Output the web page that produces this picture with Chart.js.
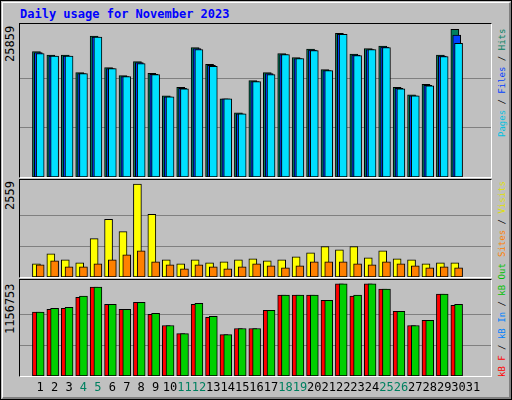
<!DOCTYPE html>
<html><head><meta charset="utf-8">
<script src="https://cdn.jsdelivr.net/npm/chart.js@4"></script>
<style>
body{margin:0;background:#fff}
#frame{position:absolute;left:0;top:0;width:512px;height:400px;background:#C0C0C0;box-sizing:border-box;border:1px solid #000}
#inner{position:absolute;left:1px;top:1px;width:506px;height:394px;border-top:1px solid #fff;border-left:1px solid #fff;border-right:2px solid #808080;border-bottom:2px solid #808080}
.panel{position:absolute;left:19px;width:471px;box-sizing:content-box;border-top:1px solid #000;border-left:1px solid #000;border-right:1px solid #fff;border-bottom:1px solid #fff}
.lbl{position:absolute;font-family:"DejaVu Sans Mono",monospace;font-size:12px;line-height:12px;white-space:nowrap;transform-origin:0 0;transform:rotate(-90deg)}
.side{font-size:9px;line-height:10px}
canvas{position:absolute}
</style></head><body>
<div id="frame"><div id="inner"></div></div>
<div style="position:absolute;left:20px;top:7px;font-family:'DejaVu Sans Mono',monospace;font-weight:bold;font-size:12px;color:#0000FF">Daily usage for November 2023</div>
<div class="panel" style="top:23px;height:153px"></div>
<div class="panel" style="top:179px;height:97px"></div>
<div class="panel" style="top:279px;height:96px"></div>
<div class="lbl" style="left:4px;top:62px;color:#000">25859</div>
<div class="lbl" style="left:4px;top:210px;color:#000">2559</div>
<div class="lbl" style="left:4px;top:334px;color:#000">1156753</div>
<div class="lbl side" style="left:497px;top:137px"><span style="color:#00C0E0">Pages</span> / <span style="color:#0040FF">Files</span> / <span style="color:#008060">Hits</span></div>
<div class="lbl side" style="left:497px;top:257px"><span style="color:#FF8000">Sites</span> / <span style="color:#E0E000">Visits</span></div>
<div class="lbl side" style="left:497px;top:377px"><span style="color:#FF0000">kB F</span> / <span style="color:#0080FF">kB In</span> / <span style="color:#00C000">kB Out</span></div>
<canvas id="c1" style="left:20px;top:24px;width:471px;height:153px" width="471" height="153"></canvas>
<canvas id="c2" style="left:20px;top:180px;width:471px;height:97px" width="471" height="97"></canvas>
<canvas id="c3" style="left:20px;top:280px;width:471px;height:118px" width="471" height="118"></canvas>
<script>
const days=["1","2","3","4","5","6","7","8","9","10","11","12","13","14","15","16","17","18","19","20","21","22","23","24","25","26","27","28","29","30","31"];
const weekend=["4","5","11","12","18","19","25","26"];
const hits=[21980,21334,21334,18278,24683,19159,17749,20217,18160,14222,15692,22685,19747,13693,11225,16867,18278,21627,20922,22391,18806,25154,21510,22509,22920,15692,14399,16221,21334,25859,0];
const files=[21800,21160,21160,18100,24510,18980,17570,20040,17980,14050,15520,22510,19570,13693,11050,16690,18100,21450,20750,22210,18630,24980,21330,22330,22740,15520,14220,16040,21160,24860,0];
const pages=[21627,21157,21157,18101,24507,18983,17572,19864,17925,14046,15457,22333,19394,13693,11049,16691,17925,21451,20746,22156,18630,24977,21275,22333,22685,15457,14222,15985,21098,23390,0];
const visits=[362,640,473,389,1057,1585,1251,2559,1724,473,362,473,389,417,473,501,445,473,556,667,834,751,834,528,723,501,473,362,389,389,0];
const sites=[334,445,278,278,362,473,612,723,417,334,222,334,278,222,278,362,306,250,306,417,417,417,362,334,417,362,306,250,278,250,0];
const kbOut=[802123,848562,861227,1000543,1114529,899222,835897,924552,785236,633255,531934,911887,747241,519269,595260,595260,823232,1013208,1013208,1013208,949883,1156753,1013208,1156753,1089199,810566,633255,696581,1025873,899222,0];
const kbF=[802123,835897,848562,987878,1114529,899222,835897,924552,772571,633255,531934,899222,734576,519269,595260,595260,823232,1013208,1013208,1013208,949883,1156753,1000543,1156753,1089199,810566,633255,696581,1025873,886557,0];
const kbIn=new Array(31).fill(0);

const pts=(arr,off)=>arr.map((v,i)=>({x:i+1+off,y:v}));
function ds(arr,off,color,w){return {data:pts(arr,off),backgroundColor:color,borderColor:'#000',borderWidth:1,borderSkipped:false,barThickness:w,grouped:false};}
function yScale(top,max){return {display:true,min:0,max:max,border:{display:false},
  ticks:{display:false},grid:{color:'#808080',lineWidth:1,drawTicks:false},
  afterFit:s=>{s.width=0;},
  afterBuildTicks:s=>{s.ticks=[{value:top/3},{value:2*top/3}];}};}
function xScale(show){const o={type:'linear',min:0.128,max:31.72,display:show,border:{display:false},grid:{display:false,drawTicks:false},
  ticks:show?{autoSkip:false,maxRotation:0,minRotation:0,padding:5,font:{family:'DejaVu Sans Mono',size:12},
    color:c=>weekend.includes(String(c.tick.value))?'#008060':'#000',
    callback:v=>days[v-1]}:{display:false},
  afterBuildTicks:s=>{s.ticks=days.map((d,i)=>({value:i+1}));}};
  if(show)o.afterFit=s=>{s.height=22;};
  return o;}
const common={responsive:false,animation:false,events:[],layout:{padding:0},plugins:{legend:{display:false},tooltip:{enabled:false}}};
new Chart(document.getElementById('c1'),{type:'bar',data:{datasets:[ds(pages,0,'#00E0FF',8),ds(files,-0.13,'#0040FF',8),ds(hits,-0.26,'#008060',8)]},
  options:{...common,scales:{x:xScale(false),y:yScale(25859,26794)}}});
new Chart(document.getElementById('c2'),{type:'bar',data:{datasets:[ds(sites,0,'#FF8000',8),ds(visits,-0.26,'#FFFF00',8)]},
  options:{...common,scales:{x:xScale(false),y:yScale(2559,2670)}}});
new Chart(document.getElementById('c3'),{type:'bar',data:{datasets:[ds(kbOut,0,'#00D000',8),ds(kbIn,-0.13,'#0080FF',8),ds(kbF,-0.26,'#FF0000',8)]},
  options:{...common,scales:{x:xScale(true),y:yScale(1156753,1203631)}}});
</script>
</body></html>
